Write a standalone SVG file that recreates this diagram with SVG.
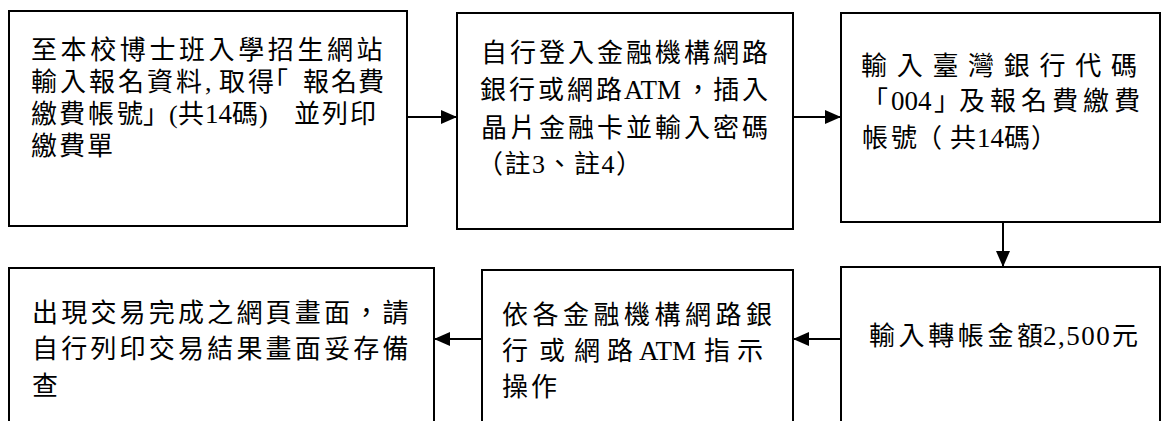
<svg xmlns="http://www.w3.org/2000/svg" width="1161" height="421" viewBox="0 0 1161 421">
<style>
.box{fill:#fff;stroke:#000;stroke-width:2}
.t{font-family:"Liberation Serif","Noto Sans CJK TC",serif;font-size:26px;fill:#000}
.l{font-family:"Liberation Serif",serif;font-size:27px}
.c{stroke:#000;stroke-width:2;fill:none}
</style>
<defs>
<marker id="ah" markerUnits="userSpaceOnUse" markerWidth="16" markerHeight="14" refX="16" refY="7" orient="auto">
<path d="M0,0 L16,7 L0,14 z" fill="#000"/>
</marker>
</defs>
<rect width="1161" height="421" fill="#fff"/>
<g id="connectors">
<line class="c" x1="407" y1="117" x2="457" y2="117" marker-end="url(#ah)"/>
<line class="c" x1="793" y1="117" x2="841" y2="117" marker-end="url(#ah)"/>
<line class="c" x1="1003" y1="222" x2="1003" y2="267" marker-end="url(#ah)"/>
<line class="c" x1="841" y1="339" x2="793" y2="339" marker-end="url(#ah)"/>
<line class="c" x1="482" y1="339" x2="434" y2="339" marker-end="url(#ah)"/>
</g>
<g id="node1">
<rect class="box" x="9" y="11" width="398" height="215"/>
<text class="t" y="59" x="31 60.6 90.2 119.8 149.4 179 208.6 238.2 267.8 297.4 327 356.6">至本校博士班入學招生網站</text>
<text class="t" y="91" x="31 60 89 118 147 176 205 219 248 262 303 331 358">輸入報名資料,取得「報名費</text>
<text class="t" y="123"><tspan x="31 59 88 117 143">繳費帳號」</tspan><tspan x="169">(</tspan><tspan x="178">共</tspan><tspan class="l" x="205">14</tspan><tspan x="232">碼</tspan><tspan x="259">)</tspan><tspan x="294 322 350">並列印</tspan></text>
<text class="t" y="155" x="31 59 87">繳費單</text>
</g>
<g id="node2">
<rect class="box" x="457" y="13" width="336" height="216"/>
<text class="t" y="62" x="481 510 539 568 597 626 655 684 713 742">自行登入金融機構網路</text>
<text class="t" y="99"><tspan x="480 509 538 567 596">銀行或網路</tspan><tspan class="l" x="624">ATM</tspan><tspan x="685 713 742">，插入</tspan></text>
<text class="t" y="137" x="481 510 539 568 597 626 655 684 713 742">晶片金融卡並輸入密碼</text>
<text class="t" x="477" y="173" textLength="165" lengthAdjust="spacing">（註3、註4）</text>
</g>
<g id="node3">
<rect class="box" x="841" y="13" width="319" height="209"/>
<text class="t" y="75" x="861 896.7 932.4 968.1 1003.8 1039.5 1075.2 1110.9">輸入臺灣銀行代碼</text>
<text class="t" y="110"><tspan x="862">「</tspan><tspan class="l" x="891">004</tspan><tspan x="934 959 990 1021 1052 1083 1114">」及報名費繳費</tspan></text>
<text class="t" y="147"><tspan x="862 891 916 950">帳號（共</tspan><tspan class="l" x="977">14</tspan><tspan x="1004 1031">碼）</tspan></text>
</g>
<g id="node4">
<rect class="box" x="9" y="268" width="425" height="200"/>
<text class="t" y="322" x="32 61.2 90.4 119.6 148.8 178 207.2 236.4 265.6 294.8 324 353.2 382.4">出現交易完成之網頁畫面，請</text>
<text class="t" y="358" x="32 61.2 90.4 119.6 148.8 178 207.2 236.4 265.6 294.8 324 353.2 382.4">自行列印交易結果畫面妥存備</text>
<text class="t" x="32" y="395">查</text>
</g>
<g id="node5">
<rect class="box" x="482" y="270" width="311" height="200"/>
<text class="t" y="324" x="502 532.5 563 593.5 624 654.5 685 715.5 746">依各金融機構網路銀</text>
<text class="t" y="360"><tspan x="502 539 574 607">行或網路</tspan><tspan class="l" x="639">ATM</tspan><tspan x="704 737">指示</tspan></text>
<text class="t" y="396" x="502 531">操作</text>
</g>
<g id="node6">
<rect class="box" x="841" y="267" width="319" height="200"/>
<text class="t" y="345"><tspan x="869 898.6 928.2 957.8 987.4 1017">輸入轉帳金額</tspan><tspan class="l" x="1043" letter-spacing="1.5">2,500</tspan><tspan x="1112">元</tspan></text>
</g>
</svg>
